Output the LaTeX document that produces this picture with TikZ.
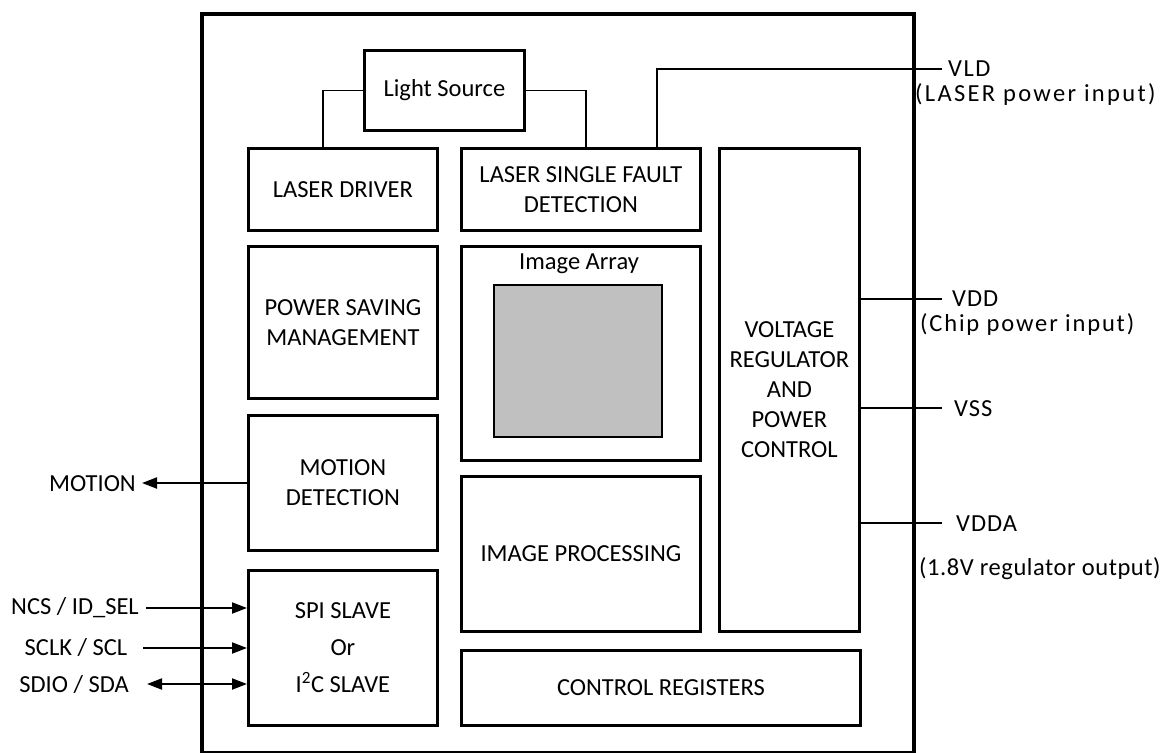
\documentclass[tikz,border=0pt]{standalone}
\usepackage{fontspec}
\setmainfont{Carlito}
\usetikzlibrary{arrows.meta}
\begin{document}
\begin{tikzpicture}[x=1pt,y=-1pt,
  txt/.style={font=\fontsize{24.5}{30}\selectfont, align=center},
  blk/.style={draw, line width=2.8pt, inner sep=0pt, anchor=north west, txt},
  chipbox/.style={draw, line width=4pt, inner sep=0pt, anchor=north west},
  wire/.style={line width=1.8pt},
  sig/.style={line width=2pt, -{Triangle[length=15pt,width=11pt]}},
  bisig/.style={line width=2pt, {Triangle[length=15pt,width=11pt]}-{Triangle[length=15pt,width=11pt]}},
  lbl/.style={txt, inner sep=0pt}
]
\useasboundingbox (0,0) rectangle (1163,753);
% chip outline
\node[chipbox, minimum width=712pt, minimum height=739pt] (chip) at (200,12) {};
% blocks
\node[blk, minimum width=160pt, minimum height=80pt] (ls) at (363,49) {Light Source};
\node[blk, minimum width=189pt, minimum height=82pt] (ld) at (247,147) {LASER DRIVER};
\node[blk, minimum width=239pt, minimum height=82pt] (lsfd) at (460,147) {LASER SINGLE FAULT\\DETECTION};
\node[blk, minimum width=189pt, minimum height=152pt] (psm) at (247,245) {POWER SAVING\\MANAGEMENT};
\node[blk, minimum width=239pt, minimum height=214pt] (ia) at (460,245) {};
\node[lbl] (ialbl) at (579,264) {Image Array};
\node[draw, line width=1.5pt, fill={rgb,255:red,192;green,192;blue,192}, inner sep=0pt, anchor=north west, minimum width=168pt, minimum height=152pt] (pix) at (493,284) {};
\node[blk, minimum width=189pt, minimum height=135pt] (md) at (247,414) {MOTION\\DETECTION};
\node[blk, minimum width=239pt, minimum height=155pt] (ip) at (460,475) {IMAGE PROCESSING};
\node[blk, minimum width=189pt, minimum height=155pt, font=\fontsize{24.5}{37}\selectfont] (spi) at (247,569) {SPI SLAVE\\Or\\I\textsuperscript{2}C SLAVE};
\node[blk, minimum width=399pt, minimum height=75pt] (cr) at (460,649) {CONTROL REGISTERS};
\node[blk, minimum width=140pt, minimum height=483pt] (vr) at (718,147) {VOLTAGE\\REGULATOR\\AND\\POWER\\CONTROL};
% light source connections
\coordinate (ldtap) at (323,147);
\coordinate (lstap) at (586,147);
\draw[wire] (ls.west) -| (ldtap);
\draw[wire] (ls.east) -| (lstap);
% VLD
\coordinate (vldtap) at (657,147);
\coordinate (vldend) at (942,69);
\draw[wire] (vldtap) |- (vldend);
\node[lbl, anchor=west] (vld) at (948,69) {\addfontfeatures{LetterSpace=6}VLD};
\node[lbl, anchor=west] (vldd) at (915,95) {\addfontfeatures{LetterSpace=9.5}(LASER power input)};
% power pins
\coordinate (vddend) at (942,299);
\coordinate (vssend) at (942,408);
\coordinate (vddaend) at (942,523);
\draw[wire] (vr.east |- vddend) -- (vddend);
\draw[wire] (vr.east |- vssend) -- (vssend);
\draw[wire] (vr.east |- vddaend) -- (vddaend);
\node[lbl, anchor=west] (vdd) at (952,299) {\addfontfeatures{LetterSpace=4}VDD};
\node[lbl, anchor=west] (vddd) at (920,325) {\addfontfeatures{LetterSpace=7.5}(Chip power input)};
\node[lbl, anchor=west] (vss) at (954,409) {\addfontfeatures{LetterSpace=4}VSS};
\node[lbl, anchor=west] (vdda) at (956,524) {\addfontfeatures{LetterSpace=4}VDDA};
\node[lbl, anchor=west] (vddad) at (919,569) {\addfontfeatures{LetterSpace=2.3}(1.8V regulator output)};
% left signals
\coordinate (moend) at (142,483);
\draw[sig] (md.west |- moend) -- (moend);
\node[lbl, anchor=east] (mo) at (136,484) {MOTION};
\node[lbl] (ncs) at (75,608) {NCS / ID\_SEL};
\node[lbl] (sclk) at (76,648) {SCLK / SCL};
\node[lbl] (sdio) at (74,685) {SDIO / SDA};
\coordinate (ncsst) at (146,608);
\coordinate (sclkst) at (143,648);
\coordinate (sdiost) at (147,684);
\draw[sig] (ncsst) -- (spi.west |- ncsst);
\draw[sig] (sclkst) -- (spi.west |- sclkst);
\draw[bisig] (sdiost) -- (spi.west |- sdiost);
\end{tikzpicture}
\end{document}
